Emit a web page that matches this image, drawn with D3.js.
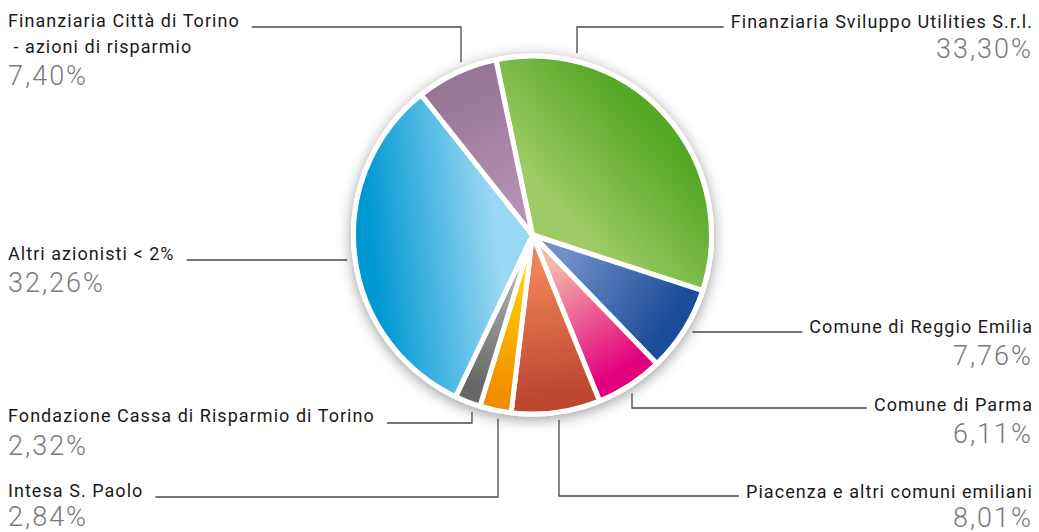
<!DOCTYPE html>
<html>
<head>
<meta charset="utf-8">
<script src="https://cdn.jsdelivr.net/npm/d3@7"></script>
<style>
  body { margin: 0; background: #fff; }
  svg { display: block; }
</style>
</head>
<body>
<script>
// shareholders, clockwise from the top
const categories = [
  "Finanziaria Sviluppo Utilities S.r.l.",
  "Comune di Reggio Emilia",
  "Comune di Parma",
  "Piacenza e altri comuni emiliani",
  "Intesa S. Paolo",
  "Fondazione Cassa di Risparmio di Torino",
  "Altri azionisti < 2%",
  "Finanziaria Città di Torino\n - azioni di risparmio"
];
const values = [33.30, 7.76, 6.11, 8.01, 2.84, 2.32, 32.26, 7.40];
const innerColors = ["#9fcb66", "#7290c8", "#f5b8aa", "#ee8258", "#ffd500", "#b5b5b5", "#9bd8f3", "#b690b6"];
const outerColors = ["#55a826", "#1b4c9a", "#e2007c", "#bd4631", "#f18e00", "#666666", "#0098d2", "#977698"];

// label placement: side, label baseline, leader type, elbow x
const layout = [
  { side: "right", y: 28,  pctDy: 30, lineY: 27,  type: "hv", elbow: 577 },
  { side: "right", y: 333, pctDy: 32, lineY: 332, type: "h" },
  { side: "right", y: 411, pctDy: 32, lineY: 408, type: "hv", elbow: 632 },
  { side: "right", y: 498, pctDy: 29, lineY: 496, type: "hv", elbow: 559 },
  { side: "left",  y: 497, pctDy: 29, lineY: 497, type: "hv", elbow: 498 },
  { side: "left",  y: 422, pctDy: 33, lineY: 423, type: "hv", elbow: 472 },
  { side: "left",  y: 260, pctDy: 32, lineY: 260, type: "h" },
  { side: "left",  y: 27,  pctDy: 58, lineY: 27,  type: "hv", elbow: 461 }
];

const width = 1039, height = 532;
const cx = 532.5, cy = 235;
const radius = 179, ringR = 181.5, leadR = 187;
const startDeg = -11.8;

const svg = d3.select("body").append("svg")
    .attr("width", width)
    .attr("height", height);

const defs = svg.append("defs");
const shadow = defs.append("filter").attr("id", "shadow")
    .attr("x", "-20%").attr("y", "-20%").attr("width", "140%").attr("height", "140%");
shadow.append("feDropShadow")
    .attr("dx", 0).attr("dy", 3)
    .attr("stdDeviation", 7)
    .attr("flood-color", "#000")
    .attr("flood-opacity", 0.4);

const pie = d3.pie()
    .sort(null)
    .value(d => d)
    .startAngle(startDeg * Math.PI / 180)
    .endAngle((startDeg + 360) * Math.PI / 180);
const arcs = pie(values);

const arc = d3.arc().innerRadius(0).outerRadius(radius);

// gradient along each slice's bisector, light at the centre, dark at the rim
// (coordinates are in the translated pie group, so the centre is 0,0)
arcs.forEach((a, i) => {
  const mid = (a.startAngle + a.endAngle) / 2;
  const g = defs.append("linearGradient")
      .attr("id", "grad" + i)
      .attr("gradientUnits", "userSpaceOnUse")
      .attr("x1", 0).attr("y1", 0)
      .attr("x2", Math.sin(mid) * radius)
      .attr("y2", -Math.cos(mid) * radius);
  g.append("stop").attr("offset", "0.2").attr("stop-color", innerColors[i]);
  g.append("stop").attr("offset", "0.9").attr("stop-color", outerColors[i]);
});

svg.append("circle")
    .attr("cx", cx).attr("cy", cy)
    .attr("r", ringR)
    .attr("fill", "#fff")
    .attr("filter", "url(#shadow)");

svg.append("g")
    .attr("transform", `translate(${cx},${cy})`)
  .selectAll("path")
  .data(arcs)
  .join("path")
    .attr("d", arc)
    .attr("fill", (d, i) => `url(#grad${i})`)
    .attr("stroke", "#fff")
    .attr("stroke-width", 5)
    .attr("stroke-linejoin", "round");

const fmt = v => v.toFixed(2).replace(".", ",") + "%";

const labels = svg.append("g")
    .attr("font-family", "Roboto, 'Open Sans', sans-serif");

categories.forEach((name, i) => {
  const L = layout[i];
  const right = L.side === "right";
  const x = right ? 1033 : 8;
  const lines = name.split("\n");
  const t = labels.append("text")
      .attr("x", x).attr("y", L.y)
      .attr("text-anchor", right ? "end" : "start")
      .attr("font-size", 18)
      .attr("letter-spacing", 1.05)
      .attr("fill", "#1a1a1a");
  lines.forEach((s, k) => {
    t.append("tspan").attr("x", x).attr("dy", k === 0 ? 0 : 26).text(s);
  });
  labels.append("text")
      .attr("x", x).attr("y", L.y + L.pctDy)
      .attr("text-anchor", right ? "end" : "start")
      .attr("font-size", 27)
      .attr("font-weight", 300)
      .attr("letter-spacing", 2)
      .attr("fill", "#7a7a7a")
      .text(fmt(values[i]));

  // leader from the end of the first text line to the pie rim
  const w = t.select("tspan").node().getComputedTextLength();
  const x0 = right ? x - w - 7 : x + w + 12;
  let pts;
  if (L.type === "h") {
    const dy = L.lineY - cy;
    const xe = cx + (right ? 1 : -1) * Math.sqrt(leadR * leadR - dy * dy);
    pts = [[x0, L.lineY], [xe, L.lineY]];
  } else {
    const dx = L.elbow - cx;
    const up = L.lineY < cy;
    const ye = cy + (up ? -1 : 1) * Math.sqrt(leadR * leadR - dx * dx);
    pts = [[x0, L.lineY], [L.elbow, L.lineY], [L.elbow, ye]];
  }
  labels.append("path")
      .attr("d", d3.line()(pts))
      .attr("fill", "none")
      .attr("stroke", "#4a4a4a")
      .attr("stroke-width", 1.3);
});
</script>
</body>
</html>
